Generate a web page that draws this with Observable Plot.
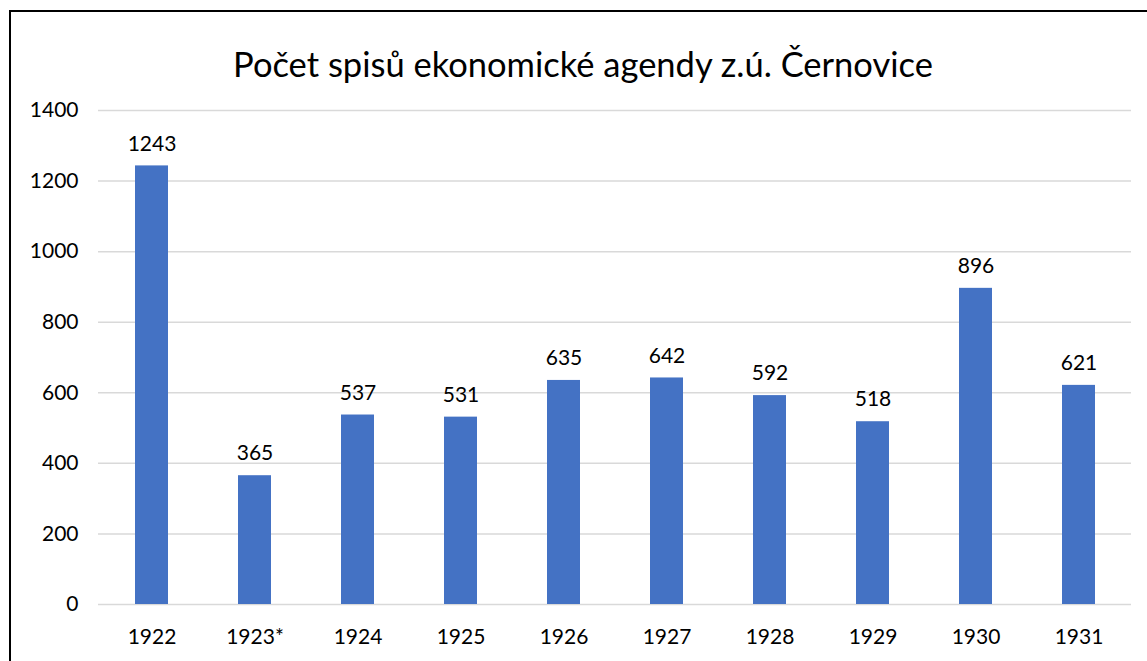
<!DOCTYPE html>
<html>
<head>
<meta charset="utf-8">
<script src="https://cdn.jsdelivr.net/npm/d3@7"></script>
<script src="https://cdn.jsdelivr.net/npm/@observablehq/plot@0.6"></script>
<style>
  html, body { margin: 0; padding: 0; background: #fff; overflow: hidden; }
  #wrap { position: relative; width: 1147px; height: 661px; }
  #frame { position: absolute; left: 9px; top: 10px; width: 1300px; height: 800px; border: 2px solid #000; box-sizing: border-box; pointer-events: none; }
  #title { position: absolute; left: 0; width: 1166px; top: 43px; text-align: center; font-family: Lato, sans-serif; font-size: 34.5px; color: #000; line-height: 1.2; }
  #chart { position: absolute; left: 0; top: 0; }
</style>
</head>
<body>
<div id="wrap">
  <div id="chart"></div>
  <div id="title">Počet spisů ekonomické agendy z.ú. Černovice</div>
  <div id="frame"></div>
</div>
<script>
const years = ["1922", "1923*", "1924", "1925", "1926", "1927", "1928", "1929", "1930", "1931"];
const counts = [1243, 365, 537, 531, 635, 642, 592, 518, 896, 621];
const yTicks = [0, 200, 400, 600, 800, 1000, 1200, 1400];

const data = years.map((y, i) => ({year: y, count: counts[i]}));

const chart = Plot.plot({
  width: 1147,
  height: 661,
  marginTop: 110,
  marginLeft: 98,
  marginRight: 16,
  marginBottom: 57,
  style: {fontFamily: "Lato, sans-serif", fontSize: "21px", color: "#000", background: "transparent"},
  x: {domain: years, paddingInner: 0.68, paddingOuter: 0.34, label: null},
  y: {domain: [0, 1400], ticks: yTicks, label: null},
  marks: [
    Plot.gridY(yTicks, {stroke: "#d9d9d9", strokeOpacity: 1, strokeWidth: 1.5}),
    Plot.barY(data, {x: "year", y: "count", fill: "#4472C4"}),
    Plot.axisY(yTicks, {tickSize: 0, tickPadding: 20, fontSize: 21, tickFormat: d => String(d), label: null}),
    Plot.axisX({tickSize: 0, tickPadding: 25, fontSize: 21, label: null}),
    Plot.text(data, {x: "year", y: "count", text: d => String(d.count), dy: -22, fontSize: 21, fill: "#000"})
  ]
});
document.getElementById("chart").appendChild(chart);
</script>
</body>
</html>
